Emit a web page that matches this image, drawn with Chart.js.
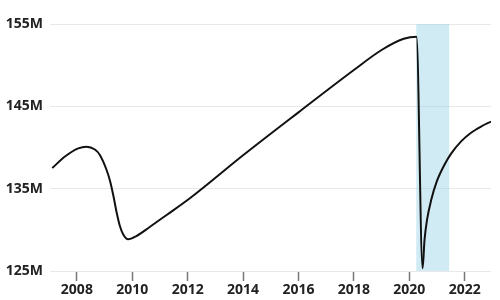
<!DOCTYPE html>
<html>
<head>
<meta charset="utf-8">
<script src="https://cdn.jsdelivr.net/npm/chart.js@4.4.1/dist/chart.umd.min.js"></script>
<style>
  html, body { margin: 0; padding: 0; background: #fff; }
  #wrap { width: 500px; height: 300px; }
</style>
</head>
<body>
<div id="wrap"><canvas id="chart"></canvas></div>
<script>
// years (decimal) and values in millions
const years = [2007.11, 2007.57, 2008.05, 2008.35, 2008.65, 2008.83, 2009.07, 2009.2, 2009.32, 2009.43,
  2009.55, 2009.68, 2009.85, 2010.15, 2010.63, 2011.24, 2012.08, 2014, 2016, 2018, 2019, 2019.8,
  2020.26, 2020.48, 2020.55, 2020.64, 2020.79, 2020.99, 2021.27, 2021.51, 2021.87, 2022.23,
  2022.59, 2022.95];
const values = [137.5, 138.9, 139.9, 140.1, 139.75, 139.1, 137.3, 135.9, 134.1, 132.2,
  130.5, 129.4, 128.85, 129.25, 130.35, 131.8, 133.83, 139.05, 144.27, 149.41, 151.84, 153.2,
  153.46, 125.33, 128.77, 131.2, 133.62, 135.85, 137.9, 139.25, 140.75, 141.8,
  142.55, 143.15];

const xTicks = [2008, 2010, 2012, 2014, 2016, 2018, 2020, 2022];
const yTicks = [125, 135, 145, 155];

// shaded period
const bandStart = 2020.25;
const bandEnd = 2021.44;

const points = years.map((y, i) => ({ x: y, y: values[i] }));

const bandPlugin = {
  id: "band",
  beforeDatasetsDraw(chart) {
    const { ctx, chartArea, scales } = chart;
    const x1 = scales.x.getPixelForValue(bandStart);
    const x2 = scales.x.getPixelForValue(bandEnd);
    ctx.save();
    ctx.fillStyle = "rgba(150, 210, 228, 0.45)";
    ctx.fillRect(x1, chartArea.top, x2 - x1, chartArea.bottom - chartArea.top);
    ctx.restore();
  }
};

const font = { family: "'Noto Sans', 'Open Sans', sans-serif", size: 14, weight: "bold" };

new Chart(document.getElementById("chart"), {
  type: "line",
  data: {
    datasets: [{
      data: points,
      borderColor: "#111",
      borderWidth: 2,
      pointRadius: 0,
      cubicInterpolationMode: "monotone",
      fill: false
    }]
  },
  options: {
    responsive: true,
    maintainAspectRatio: false,
    animation: false,
    layout: { padding: { top: 24, right: 9, left: 0, bottom: 0 } },
    plugins: { legend: { display: false }, tooltip: { enabled: false } },
    scales: {
      x: {
        type: "linear",
        min: 2007.03,
        max: 2022.95,
        afterBuildTicks: (scale) => { scale.ticks = xTicks.map(v => ({ value: v })); },
        afterFit: (scale) => { scale.height = 29; },
        border: { display: false },
        grid: { drawOnChartArea: false, drawTicks: true, tickLength: 10, tickColor: "#777", tickWidth: 1.5 },
        ticks: { color: "#222", font, padding: 1, maxRotation: 0, autoSkip: false, callback: v => String(v) }
      },
      y: {
        min: 125,
        max: 155,
        afterBuildTicks: (scale) => { scale.ticks = yTicks.map(v => ({ value: v })); },
        afterFit: (scale) => { scale.width = 50; },
        border: { display: false },
        grid: { color: "#e8e8e8", drawTicks: false, lineWidth: 1 },
        ticks: { color: "#222", font, padding: 7, callback: v => v + "M" }
      }
    }
  },
  plugins: [bandPlugin]
});
</script>
</body>
</html>
